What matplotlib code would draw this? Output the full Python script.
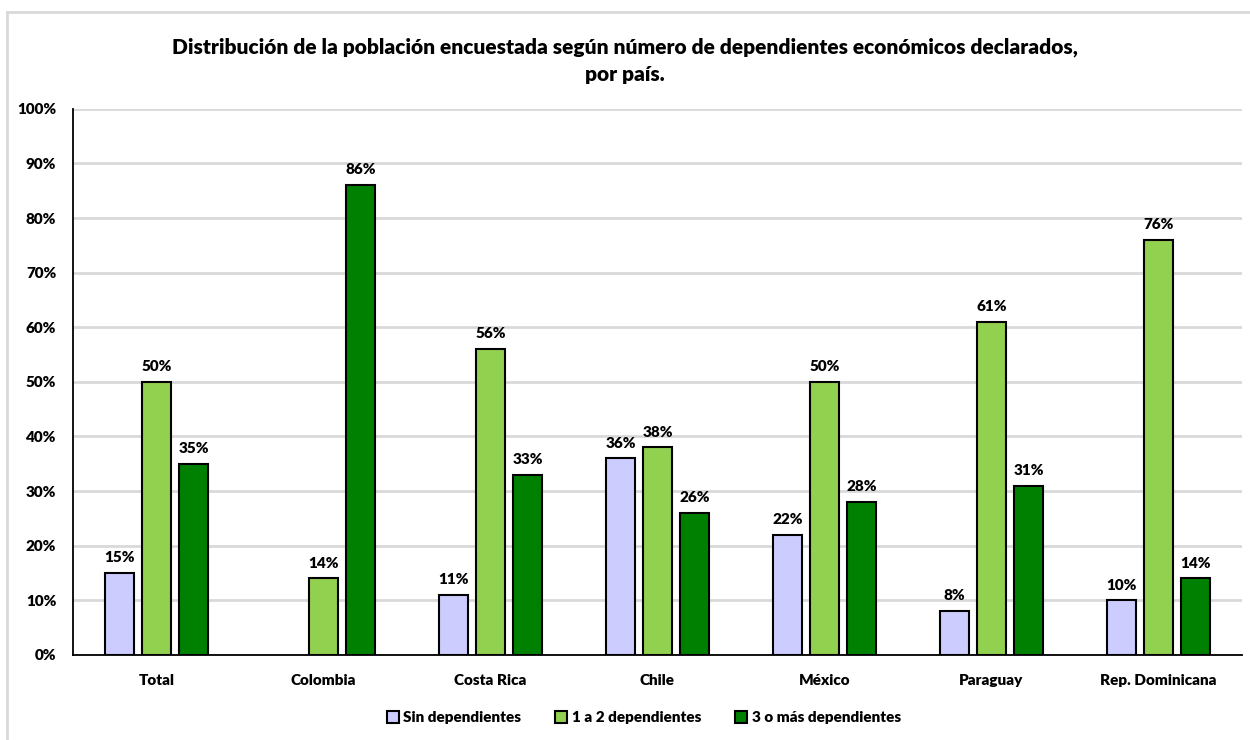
import numpy as np
import matplotlib.pyplot as plt
from matplotlib.lines import Line2D

plt.rcParams['font.family'] = ['Lato', 'DejaVu Sans']

paises = ['Total', 'Colombia', 'Costa Rica', 'Chile', 'México', 'Paraguay', 'Rep. Dominicana']
series = ['Sin dependientes', '1 a 2 dependientes', '3 o más dependientes']
sin_dep = [15, None, 11, 36, 22, 8, 10]
uno_dos = [50, 14, 56, 38, 50, 61, 76]
tres_mas = [35, 86, 33, 26, 28, 31, 14]
colores = ['#CCCCFF', '#92D050', '#008000']

fig = plt.figure(figsize=(12.5, 7.4), dpi=100)
ax = fig.add_axes([0.0584, 0.115, 0.9352, 0.738])

# light frame around the chart
fig.add_artist(Line2D([7/1250, 1], [1 - 12/740, 1 - 12/740], color='#D9D9D9', lw=2))
fig.add_artist(Line2D([7/1250, 7/1250], [0, 1 - 12/740], color='#D9D9D9', lw=2))

x = np.arange(len(paises))
ancho = 0.174
paso = 0.222
for i, (vals, col, nombre) in enumerate(zip([sin_dep, uno_dos, tres_mas], colores, series)):
    pos = x + (i - 1) * paso
    pares = [(p, v) for p, v in zip(pos, vals) if v is not None]
    ax.bar([p for p, _ in pares], [v for _, v in pares], width=ancho, color=col,
           edgecolor='black', linewidth=1.5, label=nombre, zorder=3)
    for p, v in pares:
        ax.text(p, v + 1.6, f'{v}%', ha='center', va='bottom', fontsize=11,
                fontweight='heavy', zorder=4)

ax.set_xlim(-0.5, len(paises) - 0.5)
ax.set_ylim(0, 100)
ax.set_yticks(range(0, 101, 10))
ax.set_yticklabels([f'{t}%' for t in range(0, 101, 10)], fontsize=11, fontweight='heavy')
ax.set_xticks(x)
ax.set_xticklabels(paises, fontsize=11, fontweight='heavy')
ax.tick_params(axis='x', length=0, pad=14)
ax.tick_params(axis='y', length=0, pad=12)
ax.yaxis.grid(True, color='#D9D9D9', lw=2, zorder=0)
for s in ['top', 'right']:
    ax.spines[s].set_visible(False)
ax.spines['left'].set_linewidth(1.3)
ax.spines['bottom'].set_linewidth(1.3)

fig.text(0.5, 0.918, 'Distribución de la población encuestada según número de dependientes económicos declarados,\npor país.',
         ha='center', va='center', fontsize=15, fontweight='heavy', linespacing=1.55)

fig.legend(loc='center', bbox_to_anchor=(0.515, 0.03), ncol=3, frameon=False,
           prop={'weight': 'heavy', 'size': 11}, handlelength=0.8,
           handleheight=0.8, handletextpad=0.3, columnspacing=2.2)

fig.savefig('out.png', dpi=100)
